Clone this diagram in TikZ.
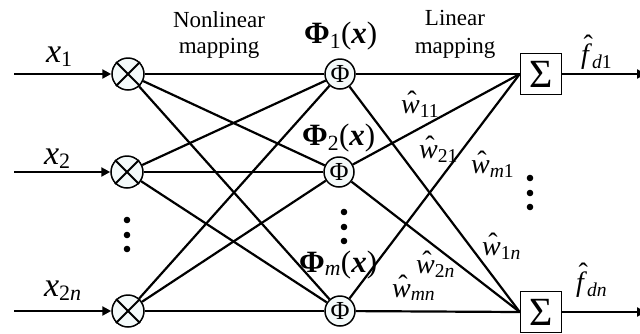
\documentclass[tikz,border=0pt]{standalone}
\usepackage{fontspec}
\setmainfont{Liberation Serif}
\usetikzlibrary{arrows.meta}
\definecolor{cfill}{RGB}{244,250,250}
\newcommand\hatw[2][0.1em]{{\ooalign{#2\cr\hidewidth\kern0.12em\raisebox{#1}{\upshape\char"02C6}\hidewidth\cr}}}
\newcommand\fsz[1]{\fontsize{#1}{#1}\selectfont}
\newcommand\xsub[1]{\raisebox{-0.14em}{\fsz{22}#1}}
\begin{document}
\begin{tikzpicture}[x=1pt,y=-1pt,line width=2.2pt,
  xnode/.style={circle,draw,line width=1.5pt,fill=cfill,minimum size=32pt,inner sep=0pt},
  phinode/.style={circle,draw,line width=1.5pt,fill=cfill,minimum size=30pt,inner sep=0pt,font=\fsz{26}},
  sumnode/.style={draw,line width=1.5pt,fill=white,minimum size=41pt,inner sep=0pt,font=\fsz{40}},
  lab/.style={inner sep=0pt,anchor=base west,font=\fsz{34}},
  wlab/.style={inner sep=0pt,anchor=base west,font=\fsz{28}},
  txt/.style={inner sep=0pt,anchor=base,font=\fsz{23}},
  philab/.style={inner sep=0pt,anchor=base west,font=\fsz{31}},
  arr/.style={-{Triangle[length=9pt,width=9pt]}}
]
\useasboundingbox (0,0) rectangle (640,333);
% nodes
\node[xnode] (c1) at (128,74) {};
\node[xnode] (c2) at (127,172) {};
\node[xnode] (c3) at (128,311) {};
\node[phinode] (p1) at (340,74) {Φ};
\node[phinode] (p2) at (339,172) {Φ};
\node[phinode] (p3) at (340,311) {Φ};
\node[sumnode] (s1) at (541,74) {Σ};
\node[sumnode] (s3) at (541,312) {Σ};
\coordinate (i1) at (14,74);
\coordinate (i2) at (14,172);
\coordinate (i3) at (14,311);
\coordinate (o1) at (646,74);
\coordinate (o3) at (646,312);
% crosses
\foreach \c in {c1,c2,c3}{
  \draw[line width=1.8pt] (\c.center) ++(-12,-12) -- ++(24,24);
  \draw[line width=1.8pt] (\c.center) ++(-12,12) -- ++(24,-24);
}
% connectors
\draw[arr] (i1) -- (c1);
\draw[arr] (i2) -- (c2);
\draw[arr] (i3) -- (c3);
\foreach \a in {c1,c2,c3}{\foreach \b in {p1,p2,p3}{\draw (\a) -- (\b);}}
\foreach \a in {p1,p2,p3}{\foreach \b in {s1,s3}{\draw (\a) -- (\b.west);}}
\draw[arr] (s1) -- (o1);
\draw[arr] (s3) -- (o3);
% dots
\foreach \y in {220,235,249}{\fill (127,\y) circle (3.3);}
\foreach \y in {212,227,241}{\fill (344,\y) circle (3.3);}
\foreach \y in {178,193,207}{\fill (530,\y) circle (3.3);}
% labels
\node[lab] (lx1) at (45,62) {\textit{x}\xsub{1}};
\node[lab] (lx2) at (43,164) {\textit{x}\xsub{2}};
\node[lab] (lx3) at (43,296) {\textit{x}\xsub{2\textit{n}}};
\node[txt] (nl1) at (219,27) {Nonlinear};
\node[txt] (nl2) at (219,53) {mapping};
\node[txt] (ll1) at (455,25) {Linear};
\node[txt] (ll2) at (455,53) {mapping};
\node[philab] (f1) at (303,43) {\textbf{Φ}\textsubscript{1}(\textbf{\textit{x}})};
\node[philab] (f2) at (301,145) {\textbf{Φ}\textsubscript{2}(\textbf{\textit{x}})};
\node[philab] (f3) at (298,272) {\textbf{Φ}\textsubscript{\textit{m}}(\textbf{\textit{x}})};
\node[wlab] (w11) at (400,113) {\hatw{\textit{w}}\textsubscript{11}};
\node[wlab] (w21) at (418,158) {\hatw{\textit{w}}\textsubscript{21}};
\node[wlab] (wm1) at (470,173) {\hatw{\textit{w}}\textsubscript{\textit{m}1}};
\node[wlab] (w1n) at (481,255) {\hatw{\textit{w}}\textsubscript{1\textit{n}}};
\node[wlab] (w2n) at (415,273) {\hatw{\textit{w}}\textsubscript{2\textit{n}}};
\node[wlab] (wmn) at (391,297) {\hatw{\textit{w}}\textsubscript{\textit{mn}}};
\node[wlab] (fd1) at (580,63) {\hatw[0.32em]{\textit{f}}\textsubscript{\textit{d}1}};
\node[wlab] (fdn) at (575,291) {\hatw[0.32em]{\textit{f}}\textsubscript{\textit{dn}}};
\end{tikzpicture}
\end{document}
